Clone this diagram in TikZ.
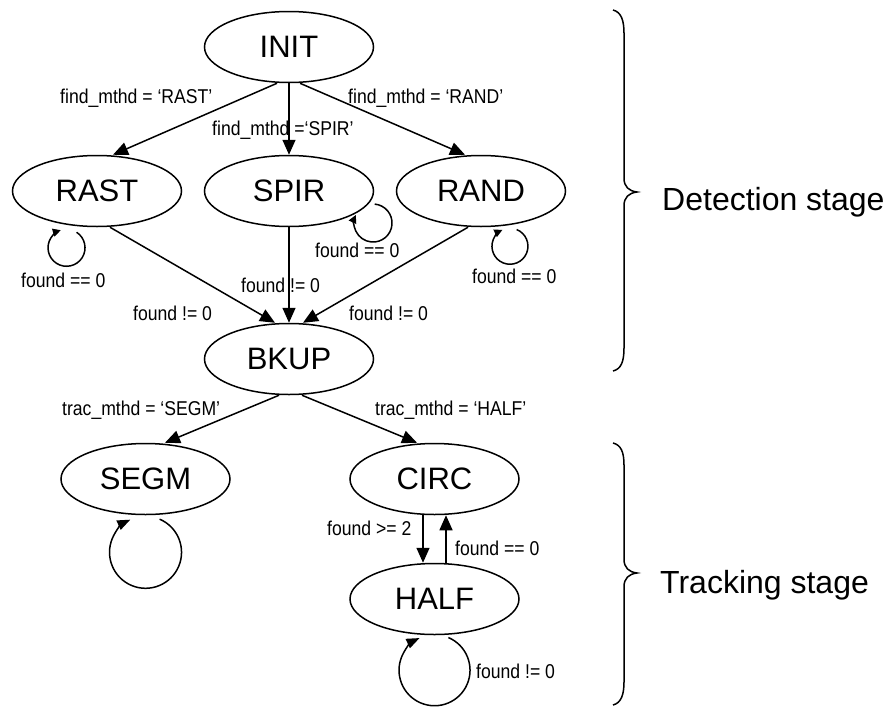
\documentclass[tikz,border=0pt]{standalone}
\usepackage{fontspec}
\setmainfont{Liberation Sans}
\newfontfamily\lblfont[FakeStretch=0.88]{Liberation Sans}
\usetikzlibrary{shapes.geometric,arrows.meta,calc}
\tikzset{
  stnode/.style={ellipse, draw, line width=1.5pt, minimum width=169pt, minimum height=71pt, inner sep=0pt, font=\fontsize{31}{36}\selectfont},
  lbl/.style={anchor=base west, inner sep=0pt, font=\lblfont\fontsize{20}{24}\selectfont},
  stage/.style={anchor=base west, inner sep=0pt, font=\fontsize{32}{38}\selectfont},
  conn/.style={line width=1.5pt, -{Triangle[length=15pt,width=13pt]}},
  loopS/.style={line width=1.5pt, -{Triangle[length=8pt,width=8pt]}},
  loopL/.style={line width=1.5pt, -{Triangle[length=13pt,width=10pt]}},
  brace/.style={line width=1.5pt},
}
\begin{document}
\begin{tikzpicture}[x=1pt,y=-1pt]
\useasboundingbox (0,0) rectangle (886,707);
% states
\node[stnode] (init) at (289,47) {INIT};
\node[stnode] (rast) at (97,191) {RAST};
\node[stnode] (spir) at (289,191) {SPIR};
\node[stnode] (rand) at (481,191) {RAND};
\node[stnode] (bkup) at (289,359) {BKUP};
\node[stnode] (segm) at (145.5,479) {SEGM};
\node[stnode] (circ) at (434.5,479) {CIRC};
\node[stnode] (half) at (434.5,599) {HALF};
% transitions
\draw[conn] ($(init.south)+(-12,0)$) -- ($(rast.north)+(16,0)$);
\draw[conn] (init.south) -- (spir.north);
\draw[conn] ($(init.south)+(11,0)$) -- ($(rand.north)+(-16,0)$);
\draw[conn] ($(rast.south)+(13,0)$) -- ($(bkup.north)+(-14,0)$);
\draw[conn] (spir.south) -- (bkup.north);
\draw[conn] ($(rand.south)+(-13,0)$) -- ($(bkup.north)+(14,0)$);
\draw[conn] ($(bkup.south)+(-10,0)$) -- ($(segm.north)+(19.5,0)$);
\draw[conn] ($(bkup.south)+(13,0)$) -- ($(circ.north)+(-17.5,0)$);
\draw[conn] ($(circ.south)+(-11.5,0)$) -- ($(half.north)+(-11.5,0)$);
\draw[conn] ($(half.north)+(11.5,0)$) -- ($(circ.south)+(11.5,0)$);
% self loops
\draw[loopS] ($(rast.south)+(-20.4,5)$) arc[start angle=-57, end angle=252, radius=18.5];
\draw[loopS] ($(spir.center)+(85.7,13.1)$) arc[start angle=-85, end angle=205, radius=19];
\draw[loopS] ($(rand.south)+(35.7,2.3)$) arc[start angle=-68, end angle=245, radius=18];
\draw[loopL] ($(segm.south)+(14.1,3.9)$) arc[start angle=-67, end angle=245, radius=36];
\draw[loopL] ($(half.south)+(13.9,2.3)$) arc[start angle=-67, end angle=245, radius=35.5];
% labels
\node[lbl] (l1) at (60,103) {find\_mthd = ‘RAST’};
\node[lbl] (l2) at (212,135) {find\_mthd =‘SPIR’};
\node[lbl] (l3) at (348,103) {find\_mthd = ‘RAND’};
\node[lbl] (l4) at (21,287) {found == 0};
\node[lbl] (l5) at (133,320) {found != 0};
\node[lbl] (l6) at (241,292) {found != 0};
\node[lbl] (l7) at (315,257) {found == 0};
\node[lbl] (l8) at (472,283) {found == 0};
\node[lbl] (l9) at (349,320) {found != 0};
\node[lbl] (l10) at (62,415) {trac\_mthd = ‘SEGM’};
\node[lbl] (l11) at (375,415) {trac\_mthd = ‘HALF’};
\node[lbl] (l12) at (327,535) {found >= 2};
\node[lbl] (l13) at (455,555) {found == 0};
\node[lbl] (l14) at (476,678) {found != 0};
% braces
\draw[brace] (613,10) .. controls (621,12) and (624,20) .. (624,33) -- (624,178)
  .. controls (624,187) and (629,191) .. (637,192)
  .. controls (629,193) and (624,197) .. (624,206) -- (624,348)
  .. controls (624,362) and (621,369) .. (613,371);
\draw[brace] (613,443) .. controls (621,445) and (624,452) .. (624,465) -- (624,559)
  .. controls (624,568) and (629,572) .. (637,573)
  .. controls (629,574) and (624,578) .. (624,587) -- (624,682)
  .. controls (624,695) and (621,703) .. (613,705);
\node[stage] (det) at (662,210) {Detection stage};
\node[stage] (trk) at (660,593) {Tracking stage};
\end{tikzpicture}
\end{document}
